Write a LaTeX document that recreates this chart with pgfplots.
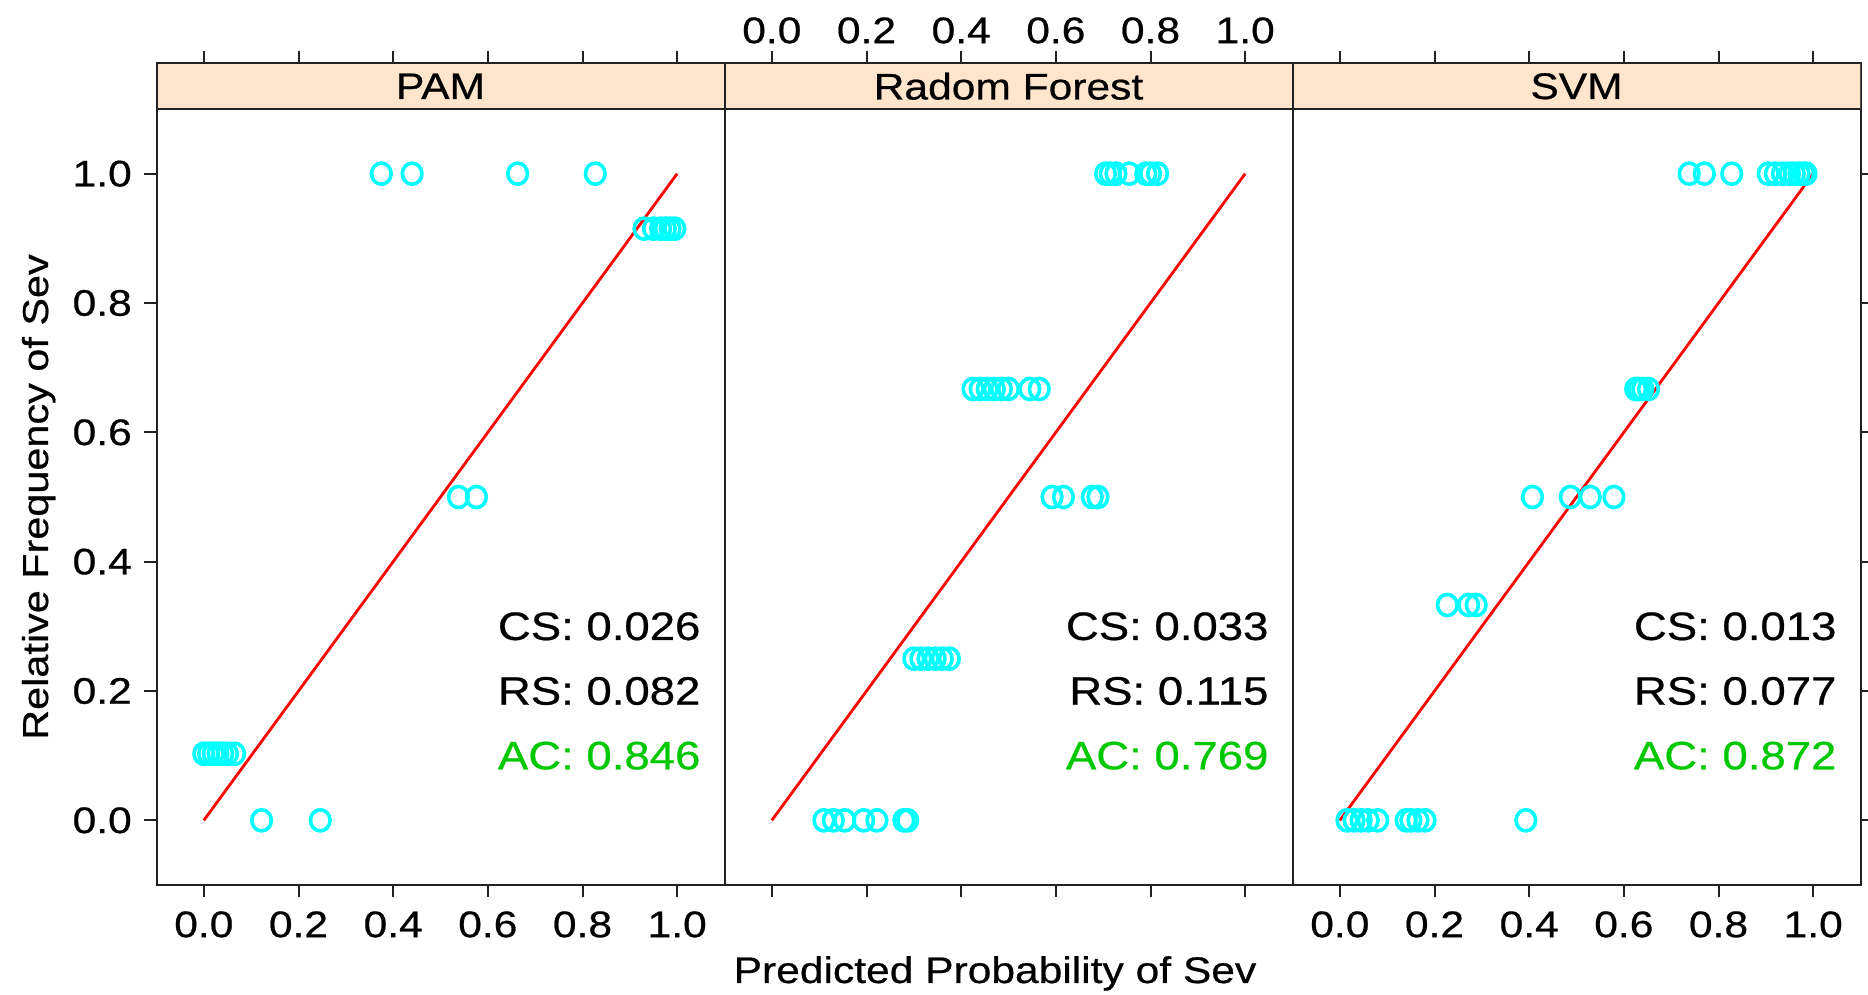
\documentclass[border=0pt]{standalone}
\usepackage{fontspec}
\setmainfont{Liberation Sans}[FakeStretch=1.15, FakeBold=0.6]
\usepackage{pgfplots}
\pgfplotsset{compat=1.18}
\definecolor{stripc}{HTML}{FFE5CC}
\definecolor{pcyan}{HTML}{00FFFF}
\definecolor{acgreen}{HTML}{00C800}
\definecolor{axc}{HTML}{222222}
\pgfplotsset{
  panel/.style={
    scale only axis, width=284pt, height=410.75pt,
    xmin=-0.1, xmax=1.1, ymin=-0.1, ymax=1.1704,
    xtick={0,0.2,0.4,0.6,0.8,1.0},
    ytick={0,0.2,0.4,0.6,0.8,1.0},
    tick align=outside, major tick length=6pt,
    tick style={line width=1pt, axc},
    axis line style={line width=1pt, axc},
    /pgf/number format/.cd, fixed, fixed zerofill, precision=1, assume math mode=true,
    /pgfplots/.cd,
    anchor=south west,
    clip=true,
  },
  pts/.style={only marks, mark=o, mark size=4.9pt, color=pcyan,
    mark options={line width=1.8pt, yscale=1.08}},
  diag/.style={red, line width=1.4pt},
}
\newcommand{\strip}[1]{%
  \filldraw[fill=stripc, draw=axc, line width=1pt] (axis cs:-0.1,1.1) rectangle (axis cs:1.1,1.1704);
  \node at (axis cs:0.5,1.1352) {#1};}
\newcommand{\stats}[3]{%
  \node[anchor=east, inner xsep=0pt, font=\fontsize{19.8pt}{23pt}\selectfont] at (axis cs:1.05,0.3) {CS: #1};
  \node[anchor=east, inner xsep=0pt, font=\fontsize{19.8pt}{23pt}\selectfont] at (axis cs:1.05,0.2) {RS: #2};
  \node[anchor=east, inner xsep=0pt, font=\fontsize{19.8pt}{23pt}\selectfont, text=acgreen] at (axis cs:1.05,0.1) {AC: #3};}
\begin{document}
\fontsize{18.5pt}{22pt}\selectfont
\begin{tikzpicture}[font=\fontsize{18.5pt}{22pt}\selectfont]
\useasboundingbox (0,0) rectangle (934pt,497.5pt);
% PAM
\begin{axis}[panel, at={(78.25pt,55pt)}, xticklabel pos=lower, ytick pos=left,
  xticklabel style={yshift=-0.8pt}]
\strip{PAM}
\addplot[diag] coordinates {(0,0) (1,1)};
\addplot[pts] coordinates {
 (0.375,1) (0.44,1) (0.663,1) (0.827,1)
 (0.93,0.915) (0.95,0.915) (0.965,0.915) (0.975,0.915) (0.985,0.915) (0.995,0.915)
 (0.538,0.5) (0.576,0.5)
 (0.0,0.103) (0.01,0.103) (0.02,0.103) (0.03,0.103) (0.04,0.103) (0.05,0.103) (0.065,0.103)
 (0.122,0) (0.246,0)
};
\stats{0.026}{0.082}{0.846}
\end{axis}
% Random Forest
\begin{axis}[panel, at={(362.25pt,55pt)}, xticklabel pos=upper, ytick=\empty,
  xticklabel style={yshift=-2.4pt}]
\strip{Radom Forest}
\addplot[diag] coordinates {(0,0) (1,1)};
\addplot[pts] coordinates {
 (0.705,1) (0.715,1) (0.727,1) (0.755,1) (0.79,1) (0.80,1) (0.815,1)
 (0.425,0.667) (0.44,0.667) (0.455,0.667) (0.47,0.667) (0.485,0.667) (0.50,0.667) (0.545,0.667) (0.565,0.667)
 (0.592,0.5) (0.616,0.5) (0.677,0.5) (0.689,0.5)
 (0.30,0.25) (0.315,0.25) (0.33,0.25) (0.345,0.25) (0.36,0.25) (0.375,0.25)
 (0.11,0) (0.13,0) (0.154,0) (0.194,0) (0.222,0) (0.279,0) (0.287,0)
};
\stats{0.033}{0.115}{0.769}
\end{axis}
% SVM
\begin{axis}[panel, at={(646.25pt,55pt)}, xticklabel pos=lower, ytick pos=right, yticklabels={},
  xticklabel style={yshift=-0.8pt}]
\strip{SVM}
\addplot[diag] coordinates {(0,0) (1,1)};
\addplot[pts] coordinates {
 (0.738,1) (0.770,1) (0.828,1) (0.905,1) (0.92,1) (0.935,1) (0.95,1) (0.96,1) (0.97,1) (0.98,1) (0.985,1)
 (0.625,0.667) (0.632,0.667) (0.64,0.667) (0.652,0.667)
 (0.407,0.5) (0.487,0.5) (0.529,0.5) (0.579,0.5)
 (0.227,0.333) (0.272,0.333) (0.288,0.333)
 (0.015,0) (0.03,0) (0.045,0) (0.06,0) (0.08,0) (0.14,0) (0.15,0) (0.165,0) (0.18,0) (0.393,0)
};
\stats{0.013}{0.077}{0.872}
\end{axis}
\node[anchor=base] at (497.5pt,6pt) {Predicted Probability of Sev};
\node[rotate=90, anchor=base, font=\fontsize{18pt}{22pt}\selectfont] at (24pt,249pt) {Relative Frequency of Sev};
\end{tikzpicture}
\end{document}
